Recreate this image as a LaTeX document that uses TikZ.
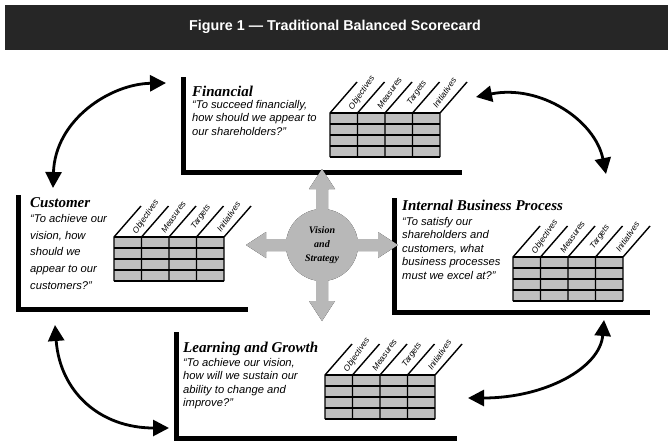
\documentclass[tikz,border=0pt]{standalone}
\usepackage{fontspec}
\setmainfont{Liberation Serif}
\setsansfont{Liberation Sans}
\usetikzlibrary{arrows.meta,positioning,calc}

% one score table: name, top-left x, top-left y
\newcommand{\scoretable}[3]{%
  \begin{scope}[shift={(#2,#3)}]
    \fill[cellgray] (0,0) rectangle (110,44);
    \foreach \ry in {0,11,22,33,44} \draw[grid] (0,\ry) -- (110,\ry);
    \foreach \cx in {0,27.5,55,82.5,110} \draw[grid] (\cx,44) -- (\cx,0) -- ++(27,-31);
    \foreach \lbl [count=\i from 0] in {Objectives,Measures,Targets,Initiatives}
      \node[colhead] (#1-col\i) at (27.5*\i+32,-20) {\lbl};
  \end{scope}}

\begin{document}
\begin{tikzpicture}[x=1pt, y=-1pt,
    cellgray/.style={fill=black!25},
    grid/.style={line width=1.4pt},
    bracket/.style={line width=5pt},
    persp/.style={font=\rmfamily\bfseries\itshape\fontsize{15}{15}\selectfont, anchor=base west, inner sep=0pt},
    quote/.style={font=\sffamily\itshape\fontsize{11.2}{13.5}\selectfont, align=left, anchor=north west, inner sep=0pt},
    colhead/.style={font=\sffamily\itshape\fontsize{8.3}{8.5}\selectfont, rotate=55, inner sep=0pt},
    link/.style={line width=2.8pt, {Triangle[length=16pt,width=16pt]}-{Triangle[length=16pt,width=16pt]}}]
    \useasboundingbox (0,0) rectangle (668,442);

    % Title bar
    \fill[black!85] (5,5) rectangle (668,50);
    \node[white, font=\sffamily\bfseries\fontsize{14.3}{15}\selectfont] (title) at (335,27) {Figure 1 --- Traditional Balanced Scorecard};

    % Financial
    \draw[bracket] (183,77) -- (183,172) -- (462,172);
    \node[persp] (fin) at (192,96) {Financial};
    \node[quote] (fin-q) at (192,100) {``To succeed financially,\\how should we appear to\\our shareholders?''};
    \scoretable{fin}{330}{113}

    % Customer
    \draw[bracket] (18,195) -- (18,309) -- (248,309);
    \node[persp] (cus) at (30,207) {Customer};
    \node[quote, font=\sffamily\itshape\fontsize{11.2}{16.7}\selectfont] (cus-q) at (30,214) {``To achieve our\\vision, how\\should we\\appear to our\\customers?''};
    \scoretable{cus}{114}{237}

    % Internal Business Process
    \draw[bracket] (394,198) -- (394,312) -- (650,312);
    \node[persp] (ibp) at (402,210) {Internal Business Process};
    \node[quote] (ibp-q) at (402,217) {``To satisfy our\\shareholders and\\customers, what\\business processes\\must we excel at?''};
    \scoretable{ibp}{513}{257}

    % Learning and Growth
    \draw[bracket] (176,332) -- (176,438) -- (457,438);
    \node[persp] (lg) at (183,352) {Learning and Growth};
    \node[quote] (lg-q) at (183,358) {``To achieve our vision,\\how will we sustain our\\ability to change and\\improve?''};
    \scoretable{lg}{325}{375}

    % Vision and Strategy hub (shadow first)
    \coordinate (V) at (322,245);
    \foreach \shade/\dx/\dy in {black/2/-2, black!28/0/0} {
      \fill[\shade, shift={(\dx,\dy)}] (V) circle (36);
      \foreach \ang in {0,90,180,270}
        \fill[\shade, shift={(\dx,\dy)}, rotate around={\ang:(V)}]
          ($(V)+(0,-6)$) -- ++(56,0) -- ++(0,-7) -- ++(20,13) -- ++(-20,13) -- ++(0,-7) -- ++(-56,0) -- cycle;
    }
    \node[font=\rmfamily\bfseries\itshape\fontsize{10}{14}\selectfont, align=center] (vis) at (V) {Vision\\and\\Strategy};

    % Cause-and-effect loop
    \coordinate (fin-w) at (166,83);
    \coordinate (cus-n) at (53,188);
    \coordinate (fin-e) at (476,97);
    \coordinate (ibp-n) at (606,174);
    \coordinate (cus-s) at (55,325);
    \coordinate (lg-w) at (169,428);
    \coordinate (ibp-s) at (604,320);
    \coordinate (lg-e) at (468,398);
    \draw[link] (cus-n) .. controls (55,120) and (110,84) .. (fin-w);
    \draw[link] (fin-e) .. controls (540,84) and (595,120) .. (ibp-n);
    \draw[link] (cus-s) .. controls (60,392) and (100,428) .. (lg-w);
    \draw[link] (ibp-s) .. controls (600,368) and (545,398) .. (lg-e);
\end{tikzpicture}
\end{document}
